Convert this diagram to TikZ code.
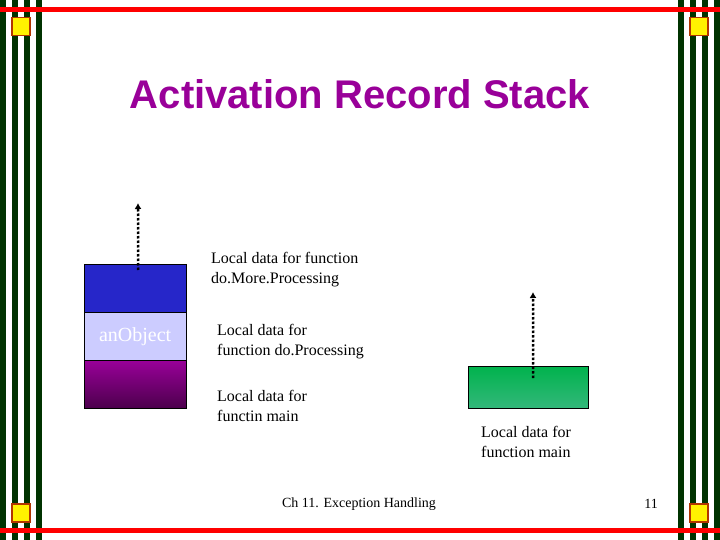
\documentclass[tikz,border=0pt]{standalone}
\usepackage{fontspec}
\usetikzlibrary{arrows.meta}
\setmainfont{Liberation Serif}
\newfontfamily\titlefont{Liberation Sans}
\begin{document}
\begin{tikzpicture}[x=1pt,y=-1pt,
  sq/.style={fill=yellow,draw=orange!60!red!70!black,line width=1.5pt},
  lbl/.style={font=\fontsize{16}{20}\selectfont,align=left,anchor=north west,inner sep=0pt},
  dots/.style={dotted,line width=2.5pt,-{Latex[length=6pt,width=7pt]}}]
\useasboundingbox (0,0) rectangle (720,540);
\fill[white] (0,0) rectangle (720,540);
\definecolor{bg}{RGB}{0,51,0}
\foreach \x in {0,12,24,36,678,690,702,714} \fill[bg] (\x,0) rectangle (\x+6,540);
\fill[red] (0,7) rectangle (720,12);
\fill[red] (0,528) rectangle (720,533);
\foreach \x/\y in {11/17,689/17,11/503,689/503}
  \node[sq,minimum size=18pt,inner sep=0pt,anchor=north west] (s\x\y) at (\x,\y) {};
\node[font=\titlefont\bfseries\fontsize{40}{44}\selectfont,text=violet!80!magenta] (title) at (360,94) {Activation Record Stack};
% left stack
\node[draw=black,fill=blue!75!black!85!white,minimum width=102pt,minimum height=48pt,inner sep=0pt,anchor=north west] (b1) at (84,264) {};
\node[draw=black,fill=blue!20,minimum width=102pt,minimum height=48pt,inner sep=0pt,anchor=north west,text=white,font=\fontsize{20}{24}\selectfont] (b2) at (84,312) {anObject};
\node[draw=black,top color=violet!80!magenta,bottom color=violet!60!black,minimum width=102pt,minimum height=48pt,inner sep=0pt,anchor=north west] (b3) at (84,360) {};
\coordinate (a1) at (138,203);
\draw[dots] ([xshift=3pt,yshift=-6pt]b1.north) -- (a1);
% right
\node[draw=black,top color=teal!60!green,bottom color=teal!70!green!80!white,minimum width=120pt,minimum height=42pt,inner sep=0pt,anchor=north west] (g) at (468,366) {};
\coordinate (a2) at (533,292);
\draw[dots] ([yshift=-12pt,xshift=5pt]g.north) -- (a2);
% labels
\node[lbl] (l1) at (211,252) {Local data for function\\ do.More.Processing};
\node[lbl] (l2) at (217,324) {Local data for\\function do.Processing};
\node[lbl] (l3) at (217,390) {Local data for\\functin main};
\node[lbl] (l4) at (481,426) {Local data for\\ function main};
\node[font=\fontsize{14}{16}\selectfont] (foot) at (359,504) {Ch 11. Exception Handling};
\node[font=\fontsize{14}{16}\selectfont] (pg) at (651,504) {11};
\end{tikzpicture}
\end{document}
